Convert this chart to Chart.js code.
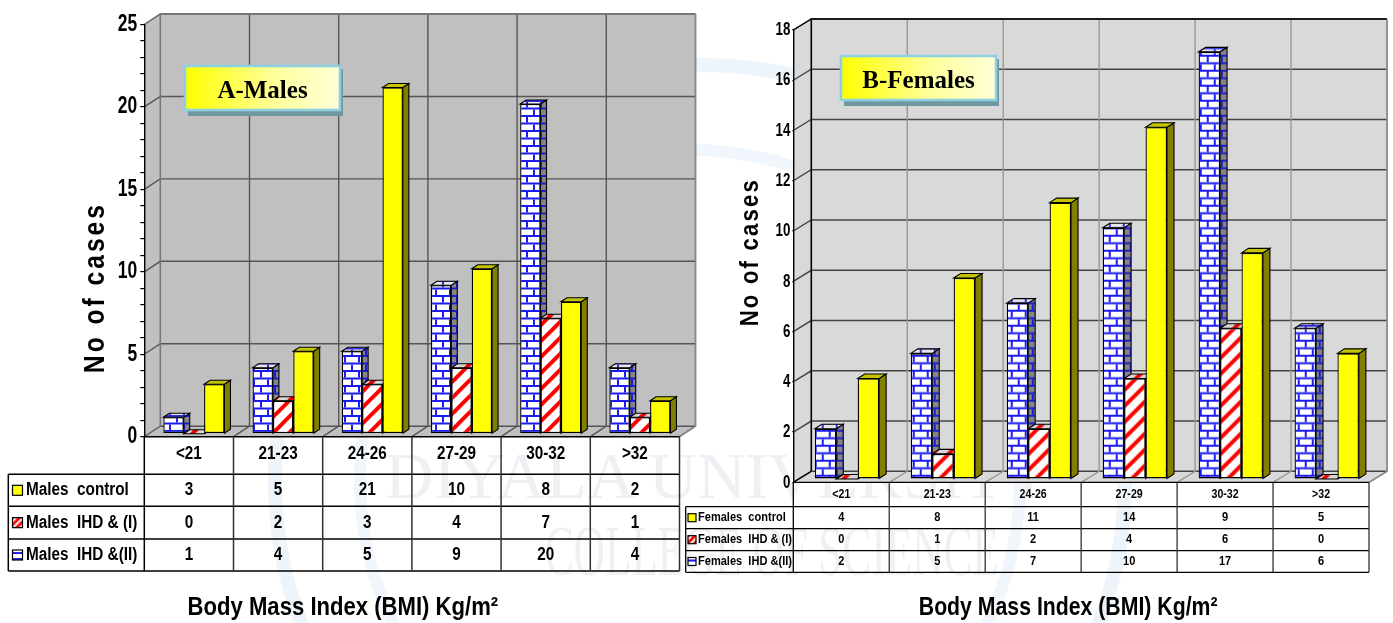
<!DOCTYPE html>
<html><head><meta charset="utf-8">
<script src="https://cdn.jsdelivr.net/npm/chart.js@4"></script>
<style>
html,body{margin:0;padding:0;background:#fff;width:1393px;height:623px;overflow:hidden}
canvas{position:absolute;top:0}
#wm{position:absolute;left:0;top:0;width:1393px;height:623px}
.wt{position:absolute;font-family:"Liberation Serif",serif;color:#eef0f4;white-space:nowrap;transform-origin:0 0}
</style></head><body>
<svg id="wm" width="1393" height="623">
<ellipse cx="700" cy="480" rx="425" ry="415" fill="none" stroke="#edf4fa" stroke-width="14"/>
<ellipse cx="690" cy="480" rx="330" ry="330" fill="none" stroke="#f0f6fb" stroke-width="12"/>
</svg>
<div class="wt" style="left:385px;top:438px;font-size:66px;transform:scaleX(1.02)">DIYALA UNIVERSITY</div>
<div class="wt" style="left:545px;top:510px;font-size:72px;transform:scaleX(.6)">COLLEGE OF SCIENCE</div>
<canvas id="a" width="700" height="623" style="left:0;width:700px;height:623px"></canvas>
<canvas id="b" width="713" height="623" style="left:680px;width:713px;height:623px"></canvas>
<script>
const categories = ['<21','21-23','24-26','27-29','30-32','>32'];
const malesControl = [3,5,21,10,8,2];
const malesIHD1 = [0,2,3,4,7,1];
const malesIHD2 = [1,4,5,9,20,4];
const femalesControl = [4,8,11,14,9,5];
const femalesIHD1 = [0,1,2,4,6,0];
const femalesIHD2 = [2,5,7,10,17,6];
const FONT = '"Liberation Sans",Arial,sans-serif';

function tile(w,h,draw){const c=document.createElement('canvas');c.width=w;c.height=h;draw(c.getContext('2d'));return c.getContext('2d').createPattern(c,'repeat');}
function brick(bg,line){return tile(14,15,g=>{g.fillStyle=bg;g.fillRect(0,0,14,15);g.fillStyle=line;
  g.fillRect(0,5.5,14,2);g.fillRect(0,13,14,2);g.fillRect(3,0,2,5.5);g.fillRect(10,7.5,2,5.5);});}
function stripes(bg,fg,n,w){return tile(n,n,g=>{g.fillStyle=bg;g.fillRect(0,0,n,n);g.strokeStyle=fg;g.lineWidth=w;
  for(let i=-n;i<=2*n;i+=n){g.beginPath();g.moveTo(i-2,n+2);g.lineTo(i+n+2,-2);g.stroke();}});}
const faces = {
  blue:{front:brick('#ffffff','#1c1cf0'),side:brick('#858585','#1c1cd0'),top:brick('#e8e8e8','#3030e0'),
    key:tile(6,6,g=>{g.fillStyle='#fff';g.fillRect(0,0,6,6);g.fillStyle='#1c1cf0';g.fillRect(0,2,6,2);})},
  red:{front:stripes('#ffffff','#ff0000',16,4),side:stripes('#999999','#bb0000',16,4),top:stripes('#d8d8d8','#ee0000',16,4),
    key:stripes('#ffffff','#ff0000',7,3)},
  yellow:{front:'#ffff00',side:'#808000',top:'#c4c400',key:'#ffff00'}
};

// The reference text is horizontally condensed: every text call is narrowed about its anchor.
function condense(ctx){
  const ft=ctx.fillText.bind(ctx);
  ctx.$sx=.85;
  ctx.fillText=function(t,x,y,m){const sx=ctx.$sx;ctx.save();ctx.translate(x,y);ctx.scale(sx,1);ft(t,0,0,m);ctx.restore();};
}

function make3d(cfg){
  return {
    id:'panel3d',
    afterLayout(chart){
      if(chart.$wrapped) return; chart.$wrapped=true;
      const ctx=chart.ctx;
      const wy=chart.scales.y, ox=wy.drawTitle, wx=chart.scales.x, ox2=wx.drawTitle, ol=wy.drawLabels;
      wy.drawTitle=function(){ctx.save();ctx.translate(cfg.ytitleShift[0],cfg.ytitleShift[1]);ctx.letterSpacing=cfg.ytitleSpacing;ox.call(wy);ctx.restore();};
      wx.drawTitle=function(){ctx.save();ctx.translate(cfg.xtitleShift,0);ox2.call(wx);ctx.restore();};
      wy.drawLabels=function(a){ctx.$sx=cfg.ySx;ol.call(wy,a);ctx.$sx=.85;};
    },
    beforeDraw(chart){
      const {ctx,chartArea:ca,scales:{x,y}}=chart, [dx,dy]=cfg.wall;
      const L=ca.left,R=ca.right,T=ca.top,B=ca.bottom;
      ctx.save();
      ctx.fillStyle=cfg.wallColor;
      ctx.beginPath();ctx.moveTo(L,B);ctx.lineTo(L,T);ctx.lineTo(L+dx,T+dy);ctx.lineTo(R+dx,T+dy);ctx.lineTo(R+dx,B+dy);ctx.lineTo(R,B);ctx.closePath();ctx.fill();
      y.ticks.forEach(t=>{ if(t.value%cfg.gridStep) return;
        const p=y.getPixelForValue(t.value);
        ctx.strokeStyle=cfg.hGrid;ctx.lineWidth=1.4;
        ctx.beginPath();ctx.moveTo(L,p);ctx.lineTo(L+dx,p+dy);ctx.lineTo(R+dx,p+dy);ctx.stroke();
      });
      const cw=(R-L)/categories.length;
      categories.forEach((c,i)=>{ const e=x.getPixelForTick(i)+cw/2;
        ctx.strokeStyle=cfg.vGrid;ctx.lineWidth=1.4;
        ctx.beginPath();ctx.moveTo(e,B);ctx.lineTo(e+dx,B+dy);ctx.lineTo(e+dx,T+dy);ctx.stroke();
      });
      ctx.strokeStyle=cfg.edge;ctx.lineWidth=1.6;
      ctx.beginPath();ctx.moveTo(L+dx,B+dy);ctx.lineTo(L+dx,T+dy);ctx.lineTo(R+dx,T+dy);ctx.stroke();
      ctx.strokeStyle='#888';ctx.lineWidth=1.4;
      ctx.beginPath();ctx.moveTo(R,B);ctx.lineTo(R+dx,B+dy);ctx.lineTo(R+dx,T+dy);ctx.stroke();
      ctx.strokeStyle=cfg.edge;ctx.lineWidth=1.2;
      ctx.beginPath();ctx.moveTo(L,B);ctx.lineTo(L+dx,B+dy);ctx.moveTo(L,T);ctx.lineTo(L+dx,T+dy);ctx.stroke();
      ctx.restore();
    },
    beforeDatasetsDraw(chart){
      const ctx=chart.ctx,[dx,dy]=cfg.depth;
      ctx.save();ctx.translate(cfg.shift[0],cfg.shift[1]);
      chart.data.datasets.forEach((ds,di)=>{
        const f=ds.$faces;
        chart.getDatasetMeta(di).data.forEach(b=>{
          const l=b.x-b.width/2,r=b.x+b.width/2,t=b.y,bs=b.base;
          ctx.lineWidth=1.1;ctx.strokeStyle='#000';
          ctx.fillStyle=f.side;ctx.beginPath();ctx.moveTo(r,t);ctx.lineTo(r+dx,t+dy);ctx.lineTo(r+dx,bs+dy);ctx.lineTo(r,bs);ctx.closePath();ctx.fill();ctx.stroke();
          ctx.fillStyle=f.top;ctx.beginPath();ctx.moveTo(l,t);ctx.lineTo(l+dx,t+dy);ctx.lineTo(r+dx,t+dy);ctx.lineTo(r,t);ctx.closePath();ctx.fill();ctx.stroke();
        });
      });
    },
    afterDatasetsDraw(chart){chart.ctx.restore();},
    afterDraw(chart){
      const {ctx,chartArea:ca,scales:{x}}=chart;
      const L=ca.left,R=ca.right,B=ca.bottom,rows=cfg.rows,cw=(R-L)/categories.length;
      const order=[2,1,0];
      ctx.save();
      ctx.strokeStyle='#000';ctx.lineWidth=cfg.tableLine;
      ctx.beginPath();
      ctx.moveTo(L,B);ctx.lineTo(R,B);
      rows.forEach(r=>{ctx.moveTo(cfg.tableLeft,r);ctx.lineTo(R,r);});
      ctx.moveTo(cfg.tableLeft,rows[0]);ctx.lineTo(cfg.tableLeft,rows[3]);
      ctx.moveTo(L,B);ctx.lineTo(L,rows[3]);
      ctx.stroke();
      ctx.strokeStyle='#333';
      ctx.beginPath();
      categories.forEach((c,i)=>{const e=x.getPixelForTick(i)+cw/2;ctx.moveTo(e,B);ctx.lineTo(e,rows[3]);});
      ctx.stroke();
      ctx.textBaseline='middle';
      order.forEach((ds,ri)=>{
        const set=chart.data.datasets[ds],cy=(rows[ri]+rows[ri+1])/2+cfg.rowNudge;
        const s=cfg.swatch;
        ctx.save();ctx.translate(cfg.swatchX,cy-s/2);
        ctx.fillStyle=set.$faces.key;ctx.fillRect(0,0,s,s);
        ctx.lineWidth=1.2;ctx.strokeStyle='#000';ctx.strokeRect(0,0,s,s);
        ctx.restore();
        ctx.fillStyle='#000';ctx.textAlign='left';ctx.font='bold '+cfg.rowFont+'px '+FONT;
        ctx.fillText(set.label,cfg.labelX,cy);
        ctx.textAlign='center';
        set.data.forEach((v,i)=>ctx.fillText(String(v),x.getPixelForTick(i),cy));
      });
      const b=cfg.box;
      ctx.fillStyle='#6f98a0';ctx.fillRect(b.x+3,b.y+3,b.w,b.h+3);
      const g=ctx.createLinearGradient(b.x,0,b.x+b.w,0);g.addColorStop(0,'#ffff00');g.addColorStop(.6,'#ffffa0');g.addColorStop(1,'#ffffd8');
      ctx.fillStyle=g;ctx.fillRect(b.x,b.y,b.w,b.h);
      ctx.lineWidth=2.6;ctx.strokeStyle='#8fd0e0';ctx.strokeRect(b.x,b.y,b.w,b.h);
      ctx.fillStyle='#000';ctx.textAlign='center';ctx.textBaseline='middle';
      ctx.font='bold '+b.font+'px "Liberation Serif",serif';
      ctx.$sx=1;
      ctx.fillText(b.text,b.x+b.w/2,b.y+b.h/2+4);
      ctx.$sx=.85;
      ctx.restore();
    }
  };
}

function build(id,cfg,series,labels){
  const cv=document.getElementById(id),W=cv.width,H=623;
  condense(cv.getContext('2d'));
  new Chart(cv,{
    type:'bar',
    data:{labels:categories,datasets:[
      {label:labels[2],data:series[2],backgroundColor:faces.blue.front,$faces:faces.blue},
      {label:labels[1],data:series[1],backgroundColor:faces.red.front,$faces:faces.red},
      {label:labels[0],data:series[0],backgroundColor:faces.yellow.front,$faces:faces.yellow}
    ].map(d=>Object.assign(d,{borderColor:'#000',borderWidth:1.3,borderSkipped:false,clip:false,categoryPercentage:cfg.barPct,barPercentage:1}))},
    options:{
      responsive:false,animation:false,
      layout:{padding:{left:0,top:cfg.top,right:W-cfg.right,bottom:0}},
      plugins:{legend:{display:false},tooltip:{enabled:false},title:{display:false}},
      scales:{
        x:{offset:true,grid:{display:false,drawTicks:false},border:{display:false},
          ticks:{font:{family:FONT,weight:'bold',size:cfg.xFont},color:'#000',padding:cfg.xPad,maxRotation:0,autoSkip:false},
          title:{display:true,text:'Body Mass Index (BMI) Kg/m\u00b2',color:'#000',font:{family:FONT,weight:'bold',size:cfg.xTitleFont,lineHeight:1.2},padding:{top:0,bottom:0}},
          afterFit(s){s.height=H-cfg.bottom;}},
        y:{min:0,max:cfg.max,
          grid:{drawOnChartArea:false,drawTicks:true,tickLength:cfg.tick,color:'#000',lineWidth:1.2},
          border:{display:true,color:'#000',width:1.4},
          ticks:{stepSize:cfg.step,autoSkip:false,padding:cfg.yPad,color:'#000',font:{family:FONT,weight:'bold',size:cfg.yFont},
            callback:v=>v%cfg.gridStep===0?String(v):''},
          title:{display:true,text:'No of cases',color:'#000',font:{family:FONT,weight:'bold',size:cfg.yTitleFont,lineHeight:1.2},padding:{top:cfg.yTitleX,bottom:0}},
          afterFit(s){s.width=cfg.left;}}
      }
    },
    plugins:[make3d(cfg)]
  });
}

build('a',{left:144.3,right:679.5,top:24.5,bottom:436.7,max:25,step:1,gridStep:5,barPct:.685,
  wall:[16,-10.5],shift:[5,-3],depth:[6,-4],wallColor:'#c0c0c0',hGrid:'#555',vGrid:'#555',edge:'#777',
  rows:[474.3,506.3,539,571],tableLeft:8.3,tableLine:1.5,rowNudge:0,swatch:10,swatchX:12.5,labelX:26,rowFont:18,
  xFont:18,xPad:7,xTitleFont:26,yFont:23,ySx:.76,yPad:3,tick:4,yTitleFont:29,yTitleX:78.6,ytitleSpacing:'3.5px',ytitleShift:[0,57],xtitleShift:-69,
  box:{x:185,y:66,w:155,h:44,text:'A-Males',font:25}},
  [malesControl,malesIHD1,malesIHD2],['Males  control','Males  IHD & (I)','Males  IHD &(II)']);

build('b',{left:113.3,right:689,top:30,bottom:482.3,max:18,step:2,gridStep:2,barPct:.67,
  wall:[18,-11],shift:[5.7,-3.3],depth:[7,-4.5],wallColor:'#d9d9d9',hGrid:'#444',vGrid:'#999',edge:'#000',
  rows:[506.7,528.7,550.7,572.3],tableLeft:5.7,tableLine:1.3,rowNudge:0,swatch:8,swatchX:8,labelX:18,rowFont:13,
  xFont:12.5,xPad:5,xTitleFont:25,yFont:19,ySx:.7,yPad:2,tick:1,yTitleFont:26,yTitleX:55,ytitleSpacing:'2.6px',ytitleShift:[0,-4],xtitleShift:-13,
  box:{x:161,y:56,w:155,h:44,text:'B-Females',font:25}},
  [femalesControl,femalesIHD1,femalesIHD2],['Females  control','Females  IHD & (I)','Females  IHD &(II)']);
</script>
</body></html>
